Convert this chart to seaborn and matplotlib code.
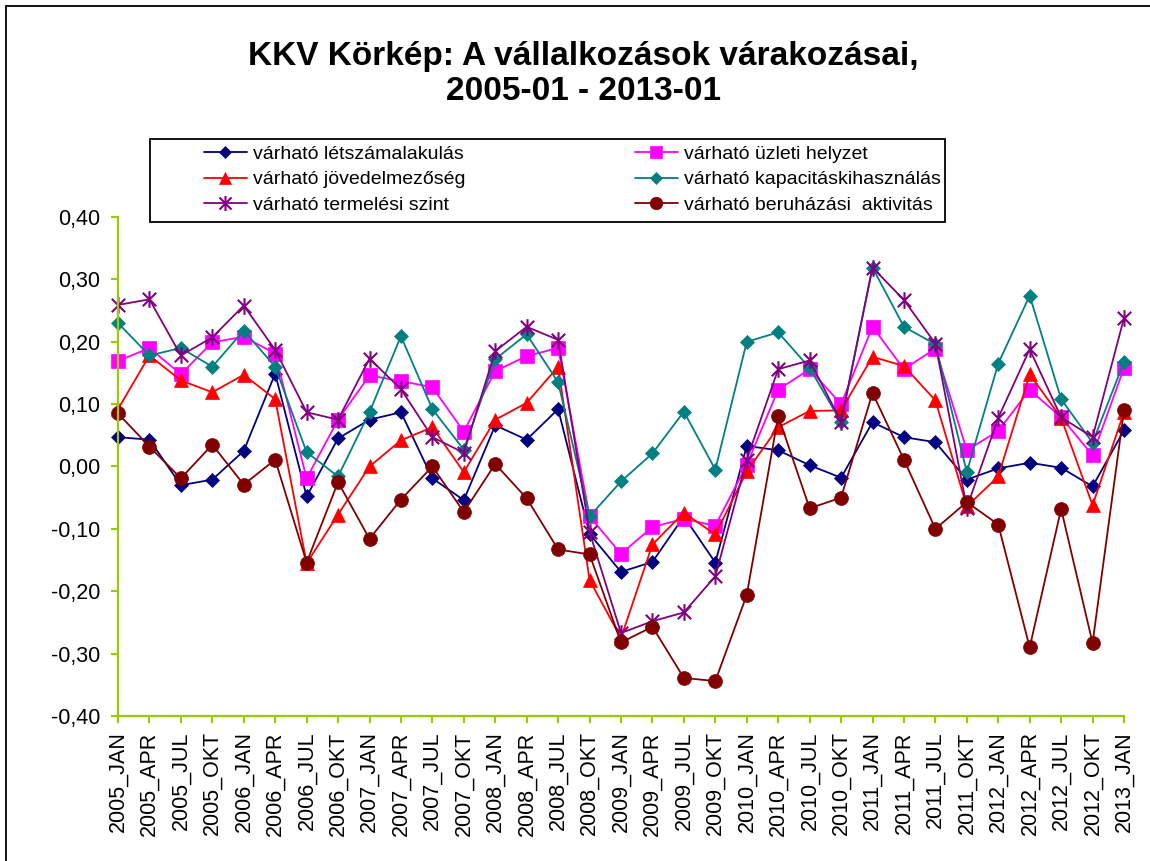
import numpy as np
import pandas as pd
import matplotlib
matplotlib.use("Agg")
import matplotlib.pyplot as plt
from matplotlib.path import Path
from matplotlib.lines import Line2D
from matplotlib.patches import Rectangle
import seaborn as sns

categories = [
    "2005_JAN", "2005_APR", "2005_JUL", "2005_OKT",
    "2006_JAN", "2006_APR", "2006_JUL", "2006_OKT",
    "2007_JAN", "2007_APR", "2007_JUL", "2007_OKT",
    "2008_JAN", "2008_APR", "2008_JUL", "2008_OKT",
    "2009_JAN", "2009_APR", "2009_JUL", "2009_OKT",
    "2010_JAN", "2010_APR", "2010_JUL", "2010_OKT",
    "2011_JAN", "2011_APR", "2011_JUL", "2011_OKT",
    "2012_JAN", "2012_APR", "2012_JUL", "2012_OKT",
    "2013_JAN",
]

letszam = [0.047, 0.043, -0.030, -0.021, 0.025, 0.149, -0.048, 0.045,
           0.075, 0.087, -0.019, -0.054, 0.066, 0.043, 0.092, -0.108,
           -0.169, -0.153, -0.080, -0.154, 0.033, 0.026, 0.002, -0.018,
           0.071, 0.047, 0.039, -0.021, -0.003, 0.006, -0.002, -0.032,
           0.058]
uzleti = [0.169, 0.190, 0.148, 0.199, 0.208, 0.181, -0.019, 0.075,
          0.146, 0.137, 0.127, 0.056, 0.153, 0.177, 0.190, -0.080,
          -0.140, -0.097, -0.084, -0.095, 0.003, 0.123, 0.156, 0.100,
          0.224, 0.156, 0.189, 0.026, 0.057, 0.123, 0.079, 0.018,
          0.158]
jovedelem = [0.092, 0.178, 0.138, 0.119, 0.147, 0.108, -0.155, -0.077,
             0.000, 0.042, 0.063, -0.009, 0.075, 0.102, 0.160, -0.182,
             -0.275, -0.125, -0.074, -0.109, -0.008, 0.063, 0.089, 0.090,
             0.176, 0.161, 0.106, -0.064, -0.016, 0.148, 0.078, -0.062,
             0.087]
kapacitas = [0.230, 0.178, 0.190, 0.160, 0.218, 0.160, 0.023, -0.016,
             0.087, 0.209, 0.092, 0.027, 0.172, 0.212, 0.135, -0.080,
             -0.024, 0.021, 0.088, -0.005, 0.200, 0.215, 0.158, 0.071,
             0.319, 0.224, 0.196, -0.009, 0.165, 0.274, 0.108, 0.038,
             0.168]
termeles = [0.259, 0.268, 0.178, 0.207, 0.258, 0.187, 0.087, 0.075,
            0.173, 0.124, 0.047, 0.022, 0.185, 0.224, 0.203, -0.105,
            -0.267, -0.248, -0.234, -0.176, 0.011, 0.156, 0.170, 0.072,
            0.319, 0.267, 0.197, -0.066, 0.078, 0.188, 0.079, 0.047,
            0.238]
beruhazas = [0.085, 0.032, -0.019, 0.035, -0.029, 0.011, -0.154, -0.025,
             -0.116, -0.053, 0.000, -0.073, 0.004, -0.051, -0.133, -0.141,
             -0.282, -0.257, -0.339, -0.344, -0.206, 0.081, -0.067, -0.050,
             0.118, 0.011, -0.100, -0.057, -0.093, -0.290, -0.068, -0.283,
             0.090]

series_names = [
    "várható létszámalakulás",
    "várható üzleti helyzet",
    "várható jövedelmezőség",
    "várható kapacitáskihasználás",
    "várható termelési szint",
    "várható beruházási  aktivitás",
]
series_values = [letszam, uzleti, jovedelem, kapacitas, termeles, beruhazas]
colors = ["#000080", "#FF00FF", "#FF0000", "#008080", "#800080", "#800000"]

ytick_vals = [-0.4, -0.3, -0.2, -0.1, 0.0, 0.1, 0.2, 0.3, 0.4]
ytick_labels = ["-0,40", "-0,30", "-0,20", "-0,10", "0,00", "0,10", "0,20", "0,30", "0,40"]

# Star marker: X plus vertical bar (Excel style)
star_path = Path(
    [(-0.5, -0.5), (0.5, 0.5), (-0.5, 0.5), (0.5, -0.5), (0.0, -0.62), (0.0, 0.62)],
    [Path.MOVETO, Path.LINETO, Path.MOVETO, Path.LINETO, Path.MOVETO, Path.LINETO],
)
markers = ["D", "s", "^", "D", star_path, "o"]
msizes = [7, 9.5, 9.5, 7, 12, 10]

rows = []
for name, vals in zip(series_names, series_values):
    for i, v in enumerate(vals):
        rows.append({"idx": i, "value": v, "series": name})
df = pd.DataFrame(rows)

sns.set_theme(style="white")
plt.rcParams["font.family"] = ["Liberation Sans", "DejaVu Sans"]
plt.rcParams["text.color"] = "black"

fig = plt.figure(figsize=(11.5, 8.61), dpi=100)
W, H = 1150, 861
ax = fig.add_axes([118 / W, (H - 716) / H, (1124 - 118) / W, (716 - 217) / H])

for name, col, mk, ms in zip(series_names, colors, markers, msizes):
    sub = df[df["series"] == name]
    sns.lineplot(data=sub, x="idx", y="value", ax=ax, color=col, marker=mk,
                 markersize=ms, markeredgecolor=col, markerfacecolor=col,
                 markeredgewidth=1.5 if mk is star_path else 0.5,
                 linewidth=1.3, label=name, sort=False, legend=False)

ax.set_xlim(0, len(categories) - 1)
ax.set_ylim(-0.4, 0.4)
ax.set_xticks(range(len(categories)))
ax.set_xticklabels(categories, rotation=90, fontsize=15.5, color="black")
ax.set_yticks(ytick_vals)
ax.set_yticklabels(ytick_labels, fontsize=15.5, color="black")
ax.set_xlabel("")
ax.set_ylabel("")
for s in ["top", "right"]:
    ax.spines[s].set_visible(False)
for s in ["left", "bottom"]:
    ax.spines[s].set_color("#99CC00")
    ax.spines[s].set_linewidth(1.6)
ax.tick_params(axis="both", which="major", direction="out", length=5, width=1.5,
               color="#99CC00", labelcolor="black", pad=8, left=True, bottom=True)
ax.tick_params(axis="x", pad=6)
ax.grid(False)
for ln in ax.lines:
    ln.set_clip_on(False)

fig.text(583 / W, 1 - 74 / H,
         "KKV Körkép: A vállalkozások várakozásai,\n2005-01 - 2013-01",
         ha="center", va="center", fontsize=24, fontweight="bold",
         linespacing=1.2, color="black")

handles = []
for name, col, mk, ms in zip(series_names, colors, markers, msizes):
    handles.append(Line2D([0], [0], color=col, marker=mk, markersize=ms * 0.9,
                          markeredgecolor=col, markerfacecolor=col,
                          markeredgewidth=1.5 if mk is star_path else 0.5,
                          linewidth=1.3, label=name))

# legend frame
fig.add_artist(Rectangle((150 / W, 1 - 222 / H), (945 - 150) / W, 83 / H,
                         transform=fig.transFigure, facecolor="white",
                         edgecolor="black", linewidth=1.3, zorder=2))
col_groups = [([0, 2, 4], 204), ([1, 3, 5], 635)]
for idxs, xpx in col_groups:
    lg = fig.legend([handles[i] for i in idxs], [series_names[i] for i in idxs],
                    loc="upper left", bbox_to_anchor=(xpx / W, 1 - 145 / H),
                    fontsize=14, frameon=False, handlelength=2.2,
                    handletextpad=0.3, borderpad=0, labelspacing=0.42,
                    borderaxespad=0)
    lg.set_zorder(3)

# outer chart border
fig.add_artist(Line2D([6 / W, 6 / W], [0, 1 - 6 / H], transform=fig.transFigure,
                      color="black", linewidth=1.3))
fig.add_artist(Line2D([6 / W, 1], [1 - 6 / H, 1 - 6 / H], transform=fig.transFigure,
                      color="black", linewidth=1.3))

fig.savefig("out.png", dpi=100)
